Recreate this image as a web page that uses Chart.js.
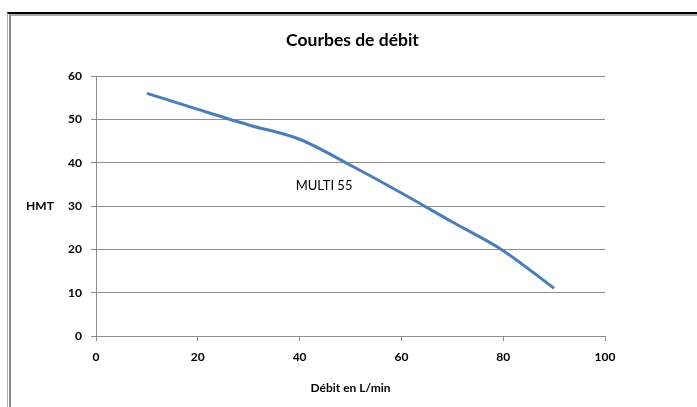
<!DOCTYPE html>
<html>
<head>
<meta charset="utf-8">
<script src="https://cdn.jsdelivr.net/npm/chart.js@4.4.0/dist/chart.umd.min.js"></script>
<style>
  body { margin: 0; background: #fff; }
  #cadre {
    position: absolute; left: 7px; top: 12px; width: 720px; height: 420px;
    border-top: 2px solid #000; border-left: 1px solid #b0b0b0;
  }
  #cadre2 {
    position: absolute; left: 1px; top: 0; right: 0; bottom: 0;
    border-top: 2px solid #a8a8a8; border-left: 2px solid #8a8a8a;
  }
  canvas { position: absolute; left: 0; top: 0; }
</style>
</head>
<body>
<div id="cadre"><div id="cadre2"></div></div>
<canvas id="grafica" width="697" height="407"></canvas>
<script>
// Valeurs
const debits = [10, 20, 30, 40, 50, 60, 70, 80, 90];
const hmt = [56, 52.3, 48.7, 45.4, 39.4, 33, 26.3, 19.7, 11];
const ticksX = [0, 20, 40, 60, 80, 100];
const ticksY = [0, 10, 20, 30, 40, 50, 60];
const nomCourbe = "MULTI 55";

const police = "Lato, 'Open Sans', sans-serif";
const gris = "#8c8c8c";

// textes fixes : HMT à gauche et étiquette de la courbe
const textesPlugin = {
  id: 'textes',
  afterDatasetsDraw(chart) {
    const ctx = chart.ctx;
    ctx.save();
    ctx.fillStyle = '#000';
    ctx.textAlign = 'center';
    ctx.textBaseline = 'middle';
    ctx.font = "bold 12px " + police;
    ctx.fillText("HMT", 40, chart.scales.y.getPixelForValue(30));
    ctx.font = "13px " + police;
    ctx.fillText(nomCourbe, chart.scales.x.getPixelForValue(44.8), chart.scales.y.getPixelForValue(34.6));
    ctx.restore();
  }
};

new Chart(document.getElementById('grafica'), {
  type: 'line',
  data: {
    datasets: [{
      label: nomCourbe,
      data: debits.map((d, i) => ({ x: d, y: hmt[i] })),
      borderColor: '#4a7ebb',
      borderWidth: 3,
      pointRadius: 0,
      tension: 0.4,
      cubicInterpolationMode: 'monotone',
      fill: false
    }]
  },
  options: {
    responsive: false,
    animation: false,
    layout: { padding: { left: 8, right: 0, top: 0, bottom: 0 } },
    plugins: {
      legend: { display: false },
      tooltip: { enabled: false },
      title: {
        display: true,
        text: 'Courbes de débit',
        color: '#000',
        font: { family: police, size: 17.5, weight: 'bold', lineHeight: 1.2 },
        padding: { top: 29.5, bottom: 25.5 }
      }
    },
    scales: {
      x: {
        type: 'linear',
        min: 0, max: 100,
        afterFit: s => { s.height = 71; },
        afterBuildTicks: s => { s.ticks = ticksX.map(v => ({ value: v })); },
        grid: { drawOnChartArea: false, drawTicks: true, tickLength: 5, color: gris },
        border: { color: gris },
        ticks: { color: '#000', padding: 9, maxRotation: 0, font: { family: police, size: 12, weight: 'bold' } },
        title: {
          display: true, text: 'Débit en L/min', color: '#000',
          font: { family: police, size: 12, weight: 'bold' },
          padding: { top: 0, bottom: 12 }
        }
      },
      y: {
        min: 0, max: 60,
        afterFit: s => { s.width = 88; },
        afterBuildTicks: s => { s.ticks = ticksY.map(v => ({ value: v })); },
        grid: { color: gris, tickLength: 5 },
        border: { color: gris },
        ticks: { color: '#000', padding: 9, font: { family: police, size: 12, weight: 'bold' } }
      },
      // axe vide à droite, seulement pour réserver la marge
      marge: {
        position: 'right',
        min: 0, max: 60,
        afterFit: s => { s.width = 92; },
        grid: { display: false },
        border: { display: false },
        ticks: { display: false }
      }
    }
  },
  plugins: [textesPlugin]
});
</script>
</body>
</html>
